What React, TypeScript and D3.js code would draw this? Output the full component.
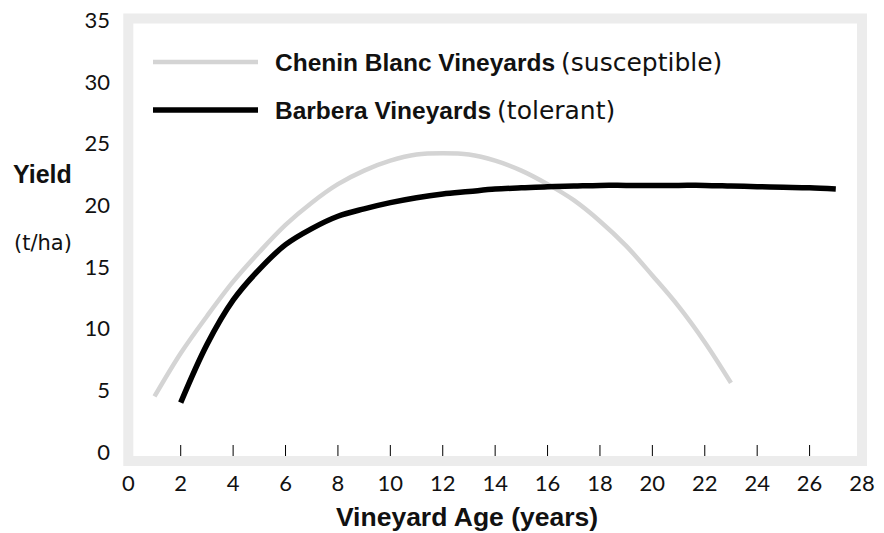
import { useEffect } from "react";
import * as d3 from "d3";

// Yield (t/ha), by vineyard age in years
const cheninAge = [1, 2, 3, 4, 5, 6, 7, 8, 9, 10, 11, 12, 13, 14, 15, 16, 17, 18, 19, 20, 21, 22, 23];
const cheninYield = [4.5, 8.0, 11.0, 13.8, 16.2, 18.4, 20.2, 21.7, 22.8, 23.6, 24.1, 24.2, 24.1, 23.6, 22.8, 21.7, 20.4, 18.7, 16.7, 14.3, 11.8, 8.9, 5.6];

const barberaAge = [2, 3, 4, 5, 6, 7, 8, 9, 10, 11, 12, 13, 14, 15, 16, 17, 18, 19, 20, 21, 22, 23, 24, 25, 26, 27];
const barberaYield = [4.0, 8.7, 12.3, 14.8, 16.8, 18.1, 19.1, 19.7, 20.2, 20.6, 20.9, 21.1, 21.3, 21.4, 21.5, 21.55, 21.6, 21.6, 21.6, 21.6, 21.6, 21.55, 21.5, 21.45, 21.4, 21.3];

const xTicks = [0, 2, 4, 6, 8, 10, 12, 14, 16, 18, 20, 22, 24, 26, 28];
const yTicks = [0, 5, 10, 15, 20, 25, 30, 35];

const legendItems = [
  { name: "Chenin Blanc Vineyards", note: "(susceptible)", color: "#d4d4d4", width: 4.5 },
  { name: "Barbera Vineyards", note: "(tolerant)", color: "#000000", width: 5.5 },
];

const W = 884;
const H = 533;
const NUM = "Lato, 'Open Sans', sans-serif";
const REG = "'DejaVu Sans', Verdana, sans-serif";
const BOLD = "'Liberation Sans', Arial, sans-serif";

export default function App() {
  useEffect(() => {
    document.body.style.margin = "0";
  }, []);

  const x = d3.scaleLinear().domain([0, 28]).range([128.3, 862]);
  const y = d3.scaleLinear().domain([0, 35]).range([452, 20]);

  const line = d3
    .line<[number, number]>()
    .x((d) => x(d[0]))
    .y((d) => y(d[1]))
    .curve(d3.curveCatmullRom.alpha(0.5));

  const chenin = cheninAge.map((a, i) => [a, cheninYield[i]] as [number, number]);
  const barbera = barberaAge.map((a, i) => [a, barberaYield[i]] as [number, number]);

  const frameTop = y(35) - 1.5;
  const frameBottom = y(0) + 9;

  return (
    <svg width={W} height={H} style={{ display: "block", background: "#fff" }}>
      {/* light grey frame round the plot */}
      <rect
        x={x(0)}
        y={frameTop}
        width={x(28) - x(0)}
        height={frameBottom - frameTop}
        fill="none"
        stroke="#ececec"
        strokeWidth={10}
      />

      {/* x ticks rising from the inner bottom edge */}
      {xTicks
        .filter((t) => t > 0 && t < 28)
        .map((t) => (
          <line key={t} x1={x(t)} x2={x(t)} y1={frameBottom - 5} y2={frameBottom - 16} stroke="#000" strokeWidth={1} />
        ))}
      {xTicks.map((t) => (
        <text key={t} x={x(t)} y={491} textAnchor="middle" fontFamily={NUM} fontSize={22} fill="#111">
          {t}
        </text>
      ))}
      {yTicks.map((t) => (
        <text key={t} x={110} y={y(t)} dy="0.36em" textAnchor="end" fontFamily={NUM} fontSize={22} fill="#111">
          {t}
        </text>
      ))}

      <path d={line(chenin) ?? ""} fill="none" stroke="#d4d4d4" strokeWidth={4.5} />
      <path d={line(barbera) ?? ""} fill="none" stroke="#000" strokeWidth={5.5} />

      {legendItems.map((item, i) => {
        const ly = 62 + i * 48;
        return (
          <g key={item.name}>
            <line x1={153} x2={258} y1={ly} y2={ly} stroke={item.color} strokeWidth={item.width} />
            <text x={275} y={ly + 8.5} fill="#111">
              <tspan fontFamily={BOLD} fontWeight="bold" fontSize={24.5}>
                {item.name}
              </tspan>
              <tspan fontFamily={REG} fontSize={25} dx={6}>
                {item.note}
              </tspan>
            </text>
          </g>
        );
      })}

      <text x={13} y={183} fontFamily={BOLD} fontWeight="bold" fontSize={25} fill="#111">
        Yield
      </text>
      <text x={14} y={250} fontFamily={REG} fontSize={21} fill="#111">
        (t/ha)
      </text>
      <text x={467} y={526} textAnchor="middle" fontFamily={BOLD} fontWeight="bold" fontSize={26.5} fill="#111">
        Vineyard Age (years)
      </text>
    </svg>
  );
}
